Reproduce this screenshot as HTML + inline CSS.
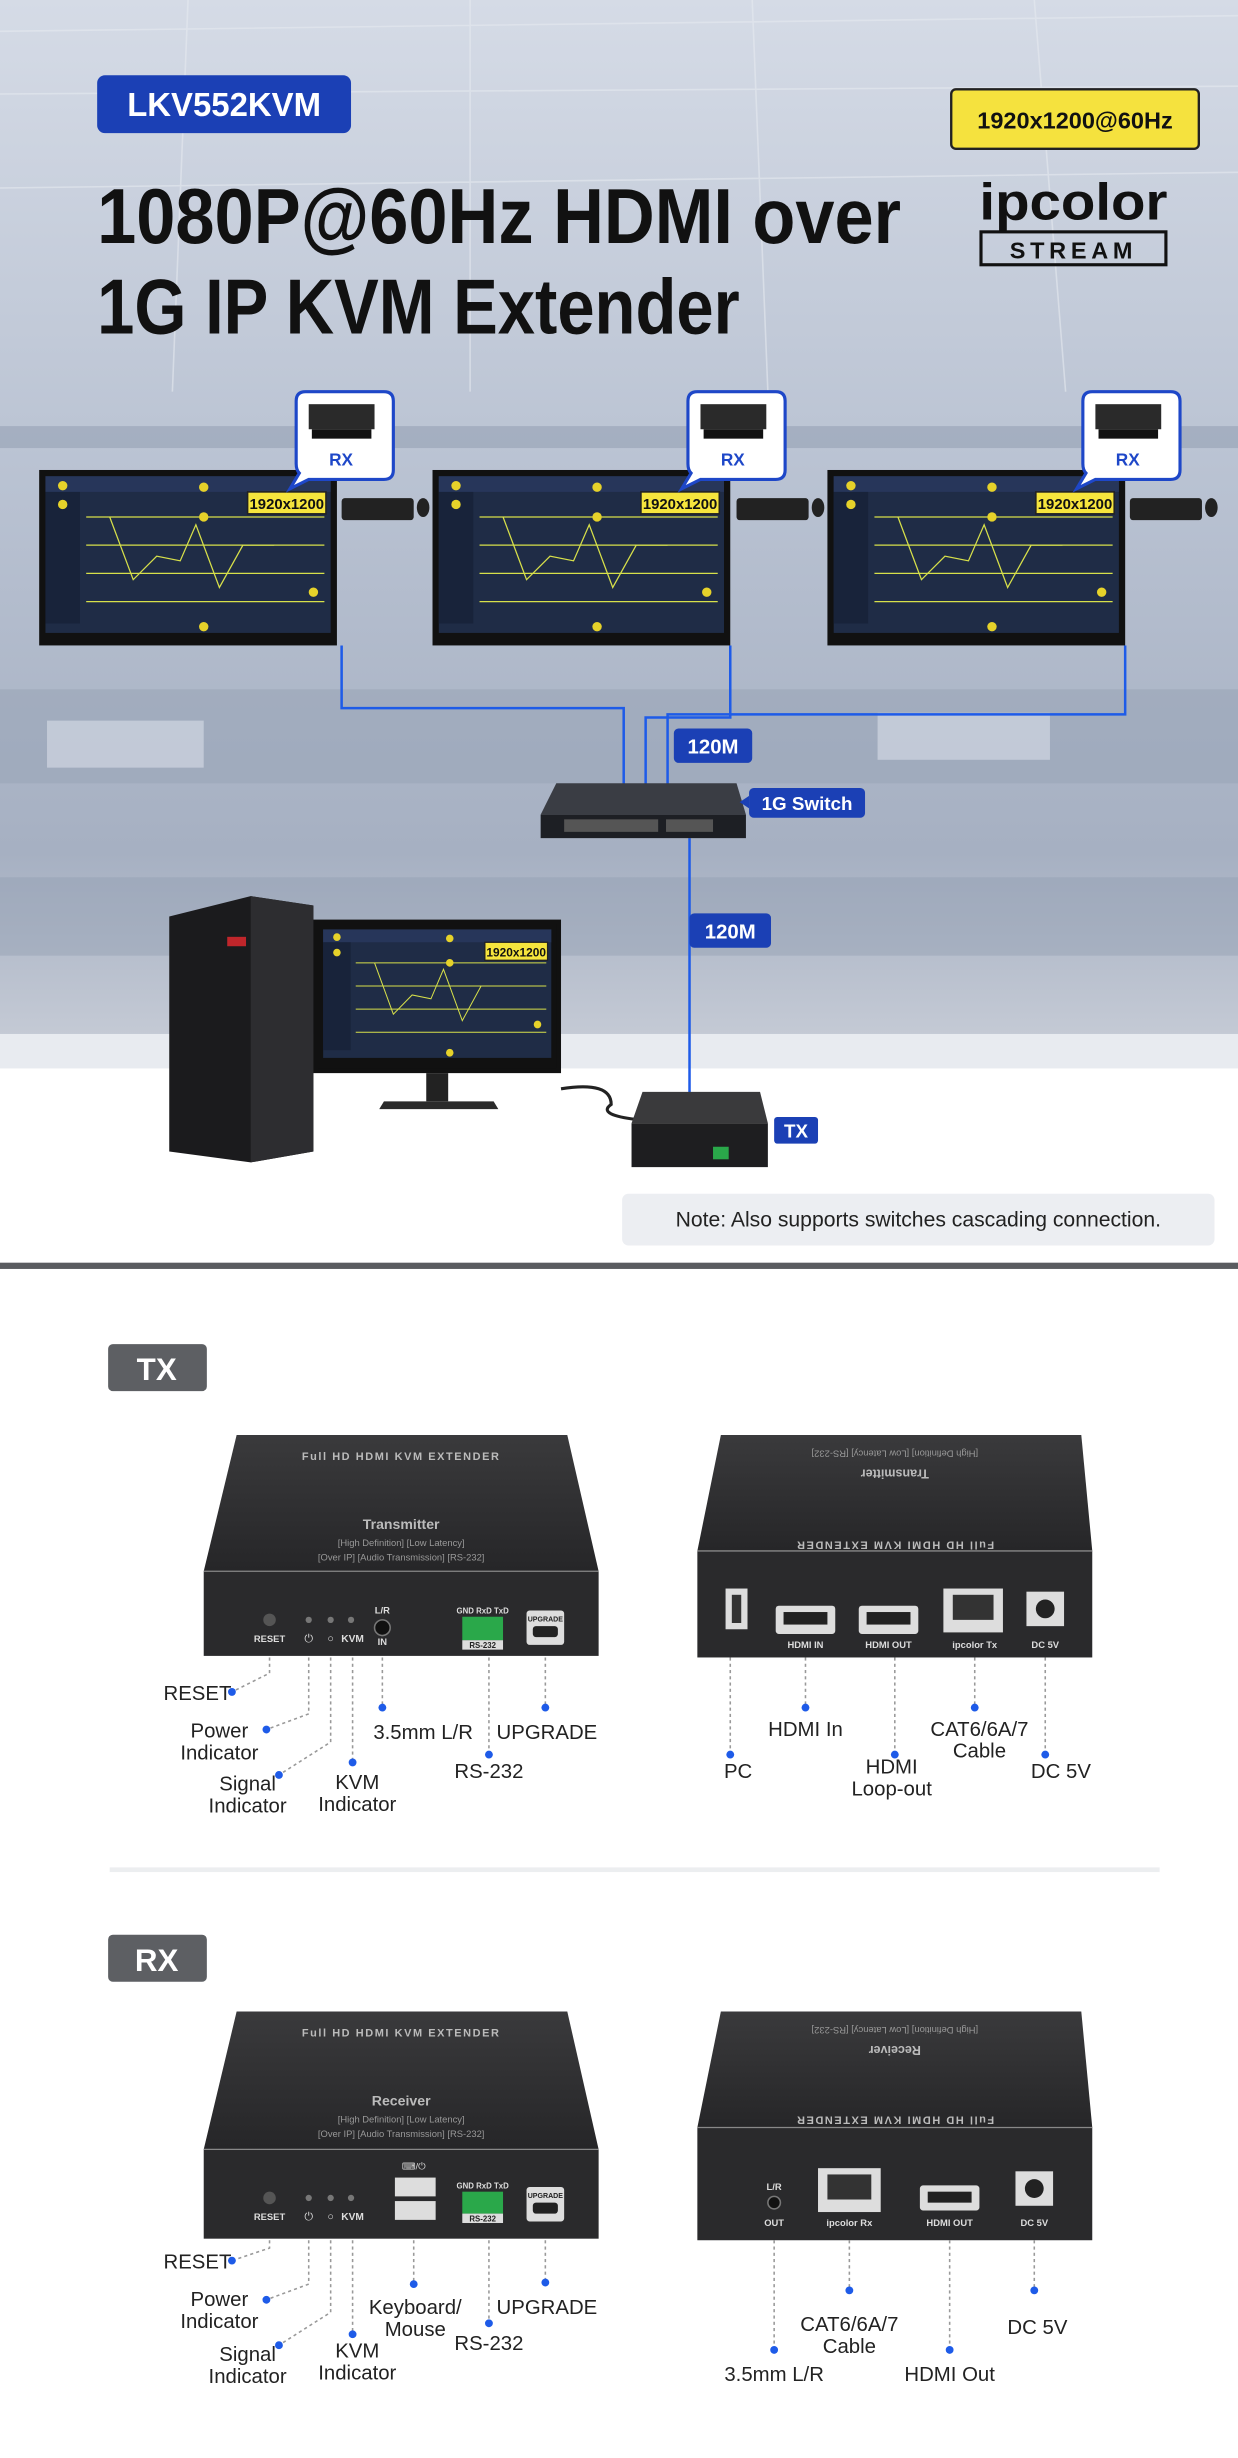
<!DOCTYPE html>
<html><head><meta charset="utf-8"><style>
html,body{margin:0;padding:0;background:#fff}
svg{display:block}
text{font-family:"Liberation Sans",sans-serif}
</style></head><body>
<svg width="1238" height="2458" viewBox="0 0 790 1569" preserveAspectRatio="none" xmlns="http://www.w3.org/2000/svg">
<defs>
<linearGradient id="bg" x1="0" y1="0" x2="0" y2="1">
<stop offset="0" stop-color="#d5dbe6"/><stop offset="0.45" stop-color="#b9c2d2"/><stop offset="0.8" stop-color="#a6b0c2"/><stop offset="1" stop-color="#c9ced8"/></linearGradient>
<linearGradient id="top" x1="0" y1="0" x2="0" y2="1"><stop offset="0" stop-color="#3a3a3c"/><stop offset="1" stop-color="#262628"/></linearGradient>
<g id="mon">
<rect x="0" y="0" width="190" height="112" fill="#111"/>
<rect x="4" y="4" width="182" height="100" fill="#1f2c46"/>
<rect x="4" y="4" width="182" height="10" fill="#27365a"/>
<rect x="4" y="14" width="22" height="84" fill="#18233a"/>
<g stroke="#d7e04a" stroke-width="0.8" fill="none">
<path d="M30 30 H182 M30 48 H182 M30 66 H182 M30 84 H182"/>
<path d="M45 30 L60 70 L75 55 L90 58 L100 35 L115 75 L130 48 L150 48"/>
</g>
<g fill="#e6d22a"><circle cx="15" cy="10" r="3"/><circle cx="105" cy="11" r="3"/><circle cx="105" cy="30" r="3"/><circle cx="15" cy="22" r="3"/><circle cx="105" cy="100" r="3"/><circle cx="175" cy="78" r="3"/></g>
<rect x="133" y="14" width="50" height="14" fill="#f6e53d" stroke="#222" stroke-width="1"/>
<text x="158" y="25" font-size="9.5" font-weight="bold" text-anchor="middle" fill="#111">1920x1200</text>
</g>
<g id="bub">
<path d="M10 0 H60 Q66 0 66 6 V50 Q66 56 60 56 H12 L0 62 L6 52 Q4 50 4 46 V6 Q4 0 10 0Z" fill="#fff" stroke="#1e47c8" stroke-width="2"/>
<rect x="12" y="8" width="42" height="16" fill="#2a2a2a"/>
<rect x="14" y="24" width="38" height="6" fill="#111"/>
<text x="25" y="47" font-size="11" font-weight="bold" fill="#1e47c8">RX</text>
</g>
</defs>
<!-- photo background -->
<rect x="0" y="0" width="790" height="680" fill="url(#bg)"/>
<g stroke="#e6eaf0" stroke-width="1" opacity="0.6">
<path d="M0 20 L790 10 M0 60 L790 55 M0 120 L790 110 M120 0 L110 250 M300 0 L300 250 M480 0 L490 250 M660 0 L680 250"/>
</g>
<rect x="0" y="272" width="790" height="14" fill="#8e99ad" opacity="0.5"/>
<rect x="0" y="440" width="790" height="60" fill="#9aa5b8" opacity="0.6"/>
<rect x="30" y="460" width="100" height="30" fill="#d8dee8" opacity="0.6"/>
<rect x="560" y="455" width="110" height="30" fill="#d8dee8" opacity="0.6"/>
<rect x="0" y="560" width="790" height="50" fill="#8f9ab0" opacity="0.4"/>
<rect x="0" y="660" width="790" height="22" fill="#e8ebf0"/>

<!-- header -->
<rect x="62" y="48" width="162" height="37" rx="5" fill="#1b40b5"/>
<text x="143" y="74" font-size="21" font-weight="bold" fill="#fff" text-anchor="middle">LKV552KVM</text>
<text x="62" y="155" font-size="50" font-weight="bold" fill="#111" textLength="513" lengthAdjust="spacingAndGlyphs">1080P@60Hz HDMI over</text>
<text x="62" y="213" font-size="50" font-weight="bold" fill="#111" textLength="410" lengthAdjust="spacingAndGlyphs">1G IP KVM Extender</text>
<rect x="607" y="57" width="158" height="38" rx="3" fill="#f5e23e" stroke="#222" stroke-width="1.5"/>
<text x="686" y="82" font-size="15" font-weight="bold" text-anchor="middle" fill="#111">1920x1200@60Hz</text>
<text x="685" y="140" font-size="33" font-weight="bold" text-anchor="middle" fill="#111" textLength="120" lengthAdjust="spacingAndGlyphs">ipcolor</text>
<rect x="626" y="148" width="118" height="21" fill="none" stroke="#111" stroke-width="2"/>
<text x="685" y="165" font-size="15" font-weight="bold" text-anchor="middle" fill="#111" letter-spacing="3">STREAM</text>

<!-- blue links -->
<g stroke="#1e5be8" stroke-width="1.6" fill="none">
<path d="M218 412 V452 H398 V505"/>
<path d="M466 412 V458 H412 V505"/>
<path d="M718 412 V456 H426 V505"/>
<path d="M440 535 V700"/>
</g>
<!-- monitors -->
<use href="#mon" x="25" y="300"/>
<use href="#mon" x="276" y="300"/>
<use href="#mon" x="528" y="300"/>
<use href="#bub" x="185" y="250"/>
<use href="#bub" x="435" y="250"/>
<use href="#bub" x="687" y="250"/>
<g fill="#222"><rect x="218" y="318" width="46" height="14" rx="2"/><rect x="470" y="318" width="46" height="14" rx="2"/><rect x="721" y="318" width="46" height="14" rx="2"/>
<ellipse cx="270" cy="324" rx="4" ry="6"/><ellipse cx="522" cy="324" rx="4" ry="6"/><ellipse cx="773" cy="324" rx="4" ry="6"/></g>

<!-- switch -->
<path d="M355 500 H470 L476 520 H345Z" fill="#3a3d44"/>
<rect x="345" y="520" width="131" height="15" fill="#1d1f24"/>
<g fill="#555"><rect x="360" y="523" width="60" height="8"/><rect x="425" y="523" width="30" height="8"/></g>
<rect x="478" y="503" width="74" height="19" rx="3" fill="#1b40b5"/>
<path d="M478 508 L472 512 L478 516Z" fill="#1b40b5"/>
<text x="515" y="517" font-size="12" font-weight="bold" fill="#fff" text-anchor="middle">1G Switch</text>
<rect x="430" y="465" width="50" height="22" rx="3" fill="#1b40b5"/>
<text x="455" y="481" font-size="13" font-weight="bold" fill="#fff" text-anchor="middle">120M</text>
<rect x="440" y="583" width="52" height="22" rx="3" fill="#1b40b5"/>
<text x="466" y="599" font-size="13" font-weight="bold" fill="#fff" text-anchor="middle">120M</text>

<!-- PC -->
<path d="M108 585 L160 572 L200 578 V735 L160 742 L108 735Z" fill="#1b1b1d"/>
<path d="M160 572 L200 578 V735 L160 742Z" fill="#2d2d30"/>
<rect x="145" y="598" width="12" height="6" fill="#c0262b"/>
<rect x="200" y="587" width="158" height="98" fill="#111"/>
<use href="#mon" x="0" y="0" transform="translate(203 590) scale(0.8 0.82)"/>
<rect x="272" y="685" width="14" height="18" fill="#222"/>
<path d="M245 703 H315 L318 708 H242Z" fill="#2a2a2a"/>
<path d="M358 695 Q390 690 390 705 Q380 712 410 715" fill="none" stroke="#222" stroke-width="2"/>
<!-- TX small -->
<path d="M410 697 H485 L490 717 H403Z" fill="#3a3a3c"/>
<rect x="403" y="717" width="87" height="28" fill="#1e1e20"/>
<rect x="455" y="732" width="10" height="8" fill="#2aa84a"/>
<rect x="494" y="713" width="28" height="17" rx="2" fill="#1b40b5"/>
<text x="508" y="726" font-size="12" font-weight="bold" fill="#fff" text-anchor="middle">TX</text>

<!-- note -->
<rect x="397" y="762" width="378" height="33" rx="4" fill="#eceef2"/>
<text x="586" y="783" font-size="13.5" fill="#222" text-anchor="middle">Note: Also supports switches cascading connection.</text>
<rect x="0" y="806" width="790" height="4" fill="#5a5c60"/>

<!-- TX section -->
<rect x="69" y="858" width="63" height="30" rx="3" fill="#5d5f63"/>
<text x="100" y="881" font-size="20" font-weight="bold" fill="#fff" text-anchor="middle">TX</text>

<!-- device template front -->
<g id="frontTX">
<path d="M151 916 H362 L382 1003 H130Z" fill="url(#top)"/>
<rect x="130" y="1003" width="252" height="54" fill="#2a2a2c"/>
<path d="M130 1003 H382" stroke="#888" stroke-width="0.8"/>
<text x="256" y="932" font-size="7" fill="#bbb" text-anchor="middle" font-weight="bold" letter-spacing="1">Full HD HDMI KVM EXTENDER</text>
<text x="256" y="976" font-size="9" fill="#bbb" text-anchor="middle" font-weight="bold">Transmitter</text>
<text x="256" y="987" font-size="6" fill="#999" text-anchor="middle">[High Definition] [Low Latency]</text>
<text x="256" y="996" font-size="6" fill="#999" text-anchor="middle">[Over IP] [Audio Transmission] [RS-232]</text>
<circle cx="172" cy="1034" r="4" fill="#555"/>
<text x="172" y="1048" font-size="6" fill="#ddd" text-anchor="middle" font-weight="bold">RESET</text>
<g fill="#777"><circle cx="197" cy="1034" r="2"/><circle cx="211" cy="1034" r="2"/><circle cx="224" cy="1034" r="2"/></g>
<text x="197" y="1048" font-size="7" fill="#ddd" text-anchor="middle">⏻</text>
<text x="211" y="1048" font-size="7" fill="#ddd" text-anchor="middle">○</text>
<text x="225" y="1048" font-size="6.5" fill="#ddd" text-anchor="middle" font-weight="bold">KVM</text>
<circle cx="244" cy="1039" r="5" fill="#111" stroke="#777"/>
<text x="244" y="1030" font-size="6" fill="#ddd" text-anchor="middle" font-weight="bold">L/R</text>
<text x="244" y="1050" font-size="6" fill="#ddd" text-anchor="middle" font-weight="bold">IN</text>
<text x="308" y="1030" font-size="5" fill="#ddd" text-anchor="middle" font-weight="bold">GND RxD TxD</text>
<rect x="295" y="1032" width="26" height="15" fill="#2aa84a"/>
<rect x="295" y="1047" width="26" height="6" fill="#ddd"/>
<text x="308" y="1052" font-size="5" fill="#222" text-anchor="middle" font-weight="bold">RS-232</text>
<rect x="336" y="1028" width="24" height="22" rx="2" fill="#ddd"/>
<text x="348" y="1035" font-size="4.5" fill="#222" text-anchor="middle" font-weight="bold">UPGRADE</text>
<rect x="340" y="1038" width="16" height="7" rx="2" fill="#222"/>
</g>
<!-- back TX -->
<path d="M460 916 H690 L697 990 H445Z" fill="url(#top)"/>
<rect x="445" y="990" width="252" height="68" fill="#2a2a2c"/>
<path d="M445 990 H697" stroke="#888" stroke-width="0.8"/>
<text x="571" y="992" font-size="7" fill="#bbb" text-anchor="middle" font-weight="bold" letter-spacing="1" transform="rotate(180 571 988)">Full HD HDMI KVM EXTENDER</text>
<text x="571" y="944" font-size="8" fill="#bbb" text-anchor="middle" font-weight="bold" transform="rotate(180 571 941)">Transmitter</text>
<text x="571" y="930" font-size="6" fill="#999" text-anchor="middle" transform="rotate(180 571 928)">[High Definition] [Low Latency] [RS-232]</text>
<rect x="463" y="1014" width="14" height="26" fill="#ddd"/><rect x="467" y="1018" width="6" height="18" fill="#333"/>
<rect x="495" y="1025" width="38" height="18" rx="2" fill="#ddd"/><rect x="500" y="1029" width="28" height="8" fill="#222"/>
<text x="514" y="1052" font-size="6" fill="#ddd" text-anchor="middle" font-weight="bold">HDMI IN</text>
<rect x="548" y="1025" width="38" height="18" rx="2" fill="#ddd"/><rect x="553" y="1029" width="28" height="8" fill="#222"/>
<text x="567" y="1052" font-size="6" fill="#ddd" text-anchor="middle" font-weight="bold">HDMI OUT</text>
<rect x="602" y="1014" width="38" height="28" fill="#ddd"/><rect x="608" y="1018" width="26" height="16" fill="#333"/>
<text x="622" y="1052" font-size="6" fill="#ddd" text-anchor="middle" font-weight="bold">ipcolor Tx</text>
<rect x="655" y="1016" width="24" height="22" fill="#ddd"/><circle cx="667" cy="1027" r="6" fill="#222"/>
<text x="667" y="1052" font-size="6" fill="#ddd" text-anchor="middle" font-weight="bold">DC 5V</text>

<!-- TX leaders -->
<g stroke="#999" stroke-width="1" stroke-dasharray="2,2" fill="none">
<path d="M172 1058 V1068 L148 1080"/><path d="M197 1058 V1094 L170 1104"/><path d="M211 1058 V1112 L178 1133"/><path d="M225 1058 V1125"/><path d="M244 1058 V1090"/><path d="M312 1058 V1120"/><path d="M348 1058 V1090"/>
<path d="M466 1058 V1120"/><path d="M514 1058 V1090"/><path d="M571 1058 V1120"/><path d="M622 1058 V1090"/><path d="M667 1058 V1120"/>
</g>
<g fill="#1e5be8"><circle cx="148" cy="1080" r="2.5"/><circle cx="170" cy="1104" r="2.5"/><circle cx="178" cy="1133" r="2.5"/><circle cx="225" cy="1125" r="2.5"/><circle cx="244" cy="1090" r="2.5"/><circle cx="312" cy="1120" r="2.5"/><circle cx="348" cy="1090" r="2.5"/><circle cx="466" cy="1120" r="2.5"/><circle cx="514" cy="1090" r="2.5"/><circle cx="571" cy="1120" r="2.5"/><circle cx="622" cy="1090" r="2.5"/><circle cx="667" cy="1120" r="2.5"/></g>
<g font-size="13" fill="#222" text-anchor="middle">
<text x="126" y="1085">RESET</text>
<text x="140" y="1109">Power</text><text x="140" y="1123">Indicator</text>
<text x="158" y="1143">Signal</text><text x="158" y="1157">Indicator</text>
<text x="228" y="1142">KVM</text><text x="228" y="1156">Indicator</text>
<text x="270" y="1110">3.5mm L/R</text>
<text x="312" y="1135">RS-232</text>
<text x="349" y="1110">UPGRADE</text>
<text x="471" y="1135">PC</text>
<text x="514" y="1108">HDMI In</text>
<text x="569" y="1132">HDMI</text><text x="569" y="1146">Loop-out</text>
<text x="625" y="1108">CAT6/6A/7</text><text x="625" y="1122">Cable</text>
<text x="677" y="1135">DC 5V</text>
</g>
<rect x="70" y="1192" width="670" height="3" fill="#eceef0"/>

<!-- RX section -->
<rect x="69" y="1235" width="63" height="30" rx="3" fill="#5d5f63"/>
<text x="100" y="1258" font-size="20" font-weight="bold" fill="#fff" text-anchor="middle">RX</text>
<path d="M151 1284 H362 L382 1372 H130Z" fill="url(#top)"/>
<rect x="130" y="1372" width="252" height="57" fill="#2a2a2c"/>
<path d="M130 1372 H382" stroke="#888" stroke-width="0.8"/>
<text x="256" y="1300" font-size="7" fill="#bbb" text-anchor="middle" font-weight="bold" letter-spacing="1">Full HD HDMI KVM EXTENDER</text>
<text x="256" y="1344" font-size="9" fill="#bbb" text-anchor="middle" font-weight="bold">Receiver</text>
<text x="256" y="1355" font-size="6" fill="#999" text-anchor="middle">[High Definition] [Low Latency]</text>
<text x="256" y="1364" font-size="6" fill="#999" text-anchor="middle">[Over IP] [Audio Transmission] [RS-232]</text>
<circle cx="172" cy="1403" r="4" fill="#555"/>
<text x="172" y="1417" font-size="6" fill="#ddd" text-anchor="middle" font-weight="bold">RESET</text>
<g fill="#777"><circle cx="197" cy="1403" r="2"/><circle cx="211" cy="1403" r="2"/><circle cx="224" cy="1403" r="2"/></g>
<text x="197" y="1417" font-size="7" fill="#ddd" text-anchor="middle">⏻</text>
<text x="211" y="1417" font-size="7" fill="#ddd" text-anchor="middle">○</text>
<text x="225" y="1417" font-size="6.5" fill="#ddd" text-anchor="middle" font-weight="bold">KVM</text>
<text x="264" y="1385" font-size="6" fill="#ddd" text-anchor="middle">⌨/⏻</text>
<rect x="252" y="1390" width="26" height="12" fill="#ddd"/><rect x="252" y="1405" width="26" height="12" fill="#ddd"/>
<text x="308" y="1397" font-size="5" fill="#ddd" text-anchor="middle" font-weight="bold">GND RxD TxD</text>
<rect x="295" y="1399" width="26" height="14" fill="#2aa84a"/>
<rect x="295" y="1413" width="26" height="6" fill="#ddd"/>
<text x="308" y="1418" font-size="5" fill="#222" text-anchor="middle" font-weight="bold">RS-232</text>
<rect x="336" y="1396" width="24" height="22" rx="2" fill="#ddd"/>
<text x="348" y="1403" font-size="4.5" fill="#222" text-anchor="middle" font-weight="bold">UPGRADE</text>
<rect x="340" y="1406" width="16" height="7" rx="2" fill="#222"/>

<path d="M460 1284 H690 L697 1358 H445Z" fill="url(#top)"/>
<rect x="445" y="1358" width="252" height="72" fill="#2a2a2c"/>
<path d="M445 1358 H697" stroke="#888" stroke-width="0.8"/>
<text x="571" y="1359" font-size="7" fill="#bbb" text-anchor="middle" font-weight="bold" letter-spacing="1" transform="rotate(180 571 1355)">Full HD HDMI KVM EXTENDER</text>
<text x="571" y="1312" font-size="8" fill="#bbb" text-anchor="middle" font-weight="bold" transform="rotate(180 571 1309)">Receiver</text>
<text x="571" y="1298" font-size="6" fill="#999" text-anchor="middle" transform="rotate(180 571 1296)">[High Definition] [Low Latency] [RS-232]</text>
<text x="494" y="1398" font-size="6" fill="#ddd" text-anchor="middle" font-weight="bold">L/R</text>
<circle cx="494" cy="1406" r="4" fill="#111" stroke="#777"/>
<text x="494" y="1421" font-size="6" fill="#ddd" text-anchor="middle" font-weight="bold">OUT</text>
<rect x="522" y="1384" width="40" height="28" fill="#ddd"/><rect x="528" y="1388" width="28" height="16" fill="#333"/>
<text x="542" y="1421" font-size="6" fill="#ddd" text-anchor="middle" font-weight="bold">ipcolor Rx</text>
<rect x="587" y="1395" width="38" height="16" rx="2" fill="#ddd"/><rect x="592" y="1399" width="28" height="7" fill="#222"/>
<text x="606" y="1421" font-size="6" fill="#ddd" text-anchor="middle" font-weight="bold">HDMI OUT</text>
<rect x="648" y="1386" width="24" height="22" fill="#ddd"/><circle cx="660" cy="1397" r="6" fill="#222"/>
<text x="660" y="1421" font-size="6" fill="#ddd" text-anchor="middle" font-weight="bold">DC 5V</text>

<g stroke="#999" stroke-width="1" stroke-dasharray="2,2" fill="none">
<path d="M172 1430 V1435 L148 1443"/><path d="M197 1430 V1458 L170 1468"/><path d="M211 1430 V1476 L178 1497"/><path d="M225 1430 V1490"/><path d="M264 1430 V1458"/><path d="M312 1430 V1483"/><path d="M348 1430 V1457"/>
<path d="M494 1430 V1500"/><path d="M542 1430 V1462"/><path d="M606 1430 V1500"/><path d="M660 1430 V1462"/>
</g>
<g fill="#1e5be8"><circle cx="148" cy="1443" r="2.5"/><circle cx="170" cy="1468" r="2.5"/><circle cx="178" cy="1497" r="2.5"/><circle cx="225" cy="1490" r="2.5"/><circle cx="264" cy="1458" r="2.5"/><circle cx="312" cy="1483" r="2.5"/><circle cx="348" cy="1457" r="2.5"/><circle cx="494" cy="1500" r="2.5"/><circle cx="542" cy="1462" r="2.5"/><circle cx="606" cy="1500" r="2.5"/><circle cx="660" cy="1462" r="2.5"/></g>
<g font-size="13" fill="#222" text-anchor="middle">
<text x="126" y="1448">RESET</text>
<text x="140" y="1472">Power</text><text x="140" y="1486">Indicator</text>
<text x="158" y="1507">Signal</text><text x="158" y="1521">Indicator</text>
<text x="228" y="1505">KVM</text><text x="228" y="1519">Indicator</text>
<text x="265" y="1477">Keyboard/</text><text x="265" y="1491">Mouse</text>
<text x="312" y="1500">RS-232</text>
<text x="349" y="1477">UPGRADE</text>
<text x="494" y="1520">3.5mm L/R</text>
<text x="542" y="1488">CAT6/6A/7</text><text x="542" y="1502">Cable</text>
<text x="606" y="1520">HDMI Out</text>
<text x="662" y="1490">DC 5V</text>
</g>
</svg>
</body></html>
